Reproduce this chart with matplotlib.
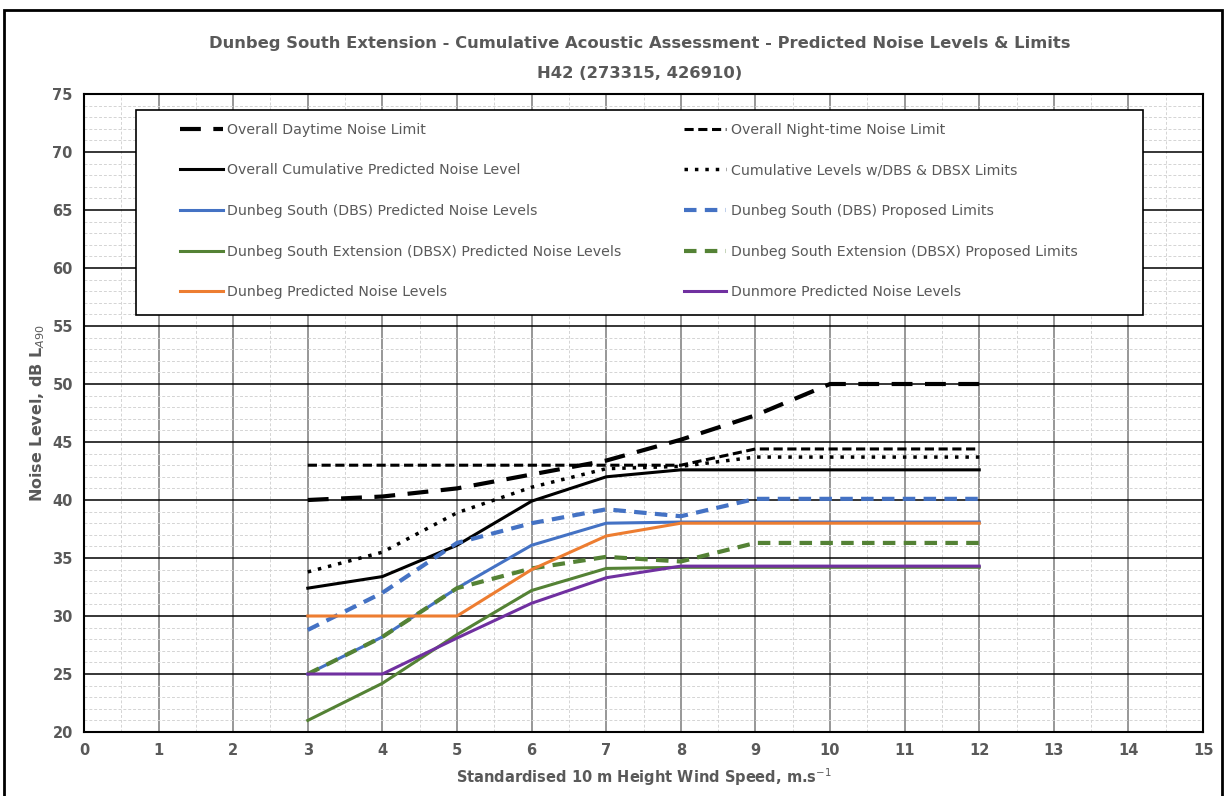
import matplotlib.pyplot as plt
from matplotlib.patches import Rectangle
from matplotlib.ticker import MultipleLocator

# wind speed, m/s
wind = [3, 4, 5, 6, 7, 8, 9, 10, 11, 12]

day_limit = [40.0, 40.3, 41.0, 42.2, 43.4, 45.2, 47.3, 50.0, 50.0, 50.0]
night_limit = [43.0, 43.0, 43.0, 43.0, 43.0, 43.0, 44.4, 44.4, 44.4, 44.4]
cumulative = [32.4, 33.4, 36.1, 39.9, 42.0, 42.6, 42.6, 42.6, 42.6, 42.6]
cumulative_lim = [33.8, 35.5, 38.9, 41.1, 42.7, 42.9, 43.7, 43.7, 43.7, 43.7]
dbs_pred = [25.0, 28.2, 32.4, 36.1, 38.0, 38.1, 38.1, 38.1, 38.1, 38.1]
dbs_lim = [28.8, 32.0, 36.3, 38.0, 39.2, 38.6, 40.1, 40.1, 40.1, 40.1]
dbsx_pred = [21.0, 24.2, 28.4, 32.2, 34.1, 34.2, 34.2, 34.2, 34.2, 34.2]
dbsx_lim = [25.0, 28.2, 32.4, 34.1, 35.1, 34.7, 36.3, 36.3, 36.3, 36.3]
dunbeg = [30.0, 30.0, 30.0, 34.0, 36.9, 38.0, 38.0, 38.0, 38.0, 38.0]
dunmore = [25.0, 25.0, 28.1, 31.1, 33.3, 34.3, 34.3, 34.3, 34.3, 34.3]

BLUE = "#4472C4"
ORANGE = "#ED7D31"
GREEN = "#548235"
PURPLE = "#7030A0"
GREY = "#595959"

fig = plt.figure(figsize=(12.26, 7.96), dpi=100)
ax = fig.add_axes([0.0685, 0.0804, 0.9128, 0.8015])

# outer chart border
fig.patches.append(Rectangle((0.003, -0.01), 0.994, 0.997, transform=fig.transFigure,
                             fill=False, edgecolor="black", linewidth=2))

ax.plot(wind, day_limit, color="black", lw=3, linestyle=(0, (5, 3)), label="Overall Daytime Noise Limit")
ax.plot(wind, night_limit, color="black", lw=2.2, linestyle=(0, (3, 1.5)), label="Overall Night-time Noise Limit")
ax.plot(wind, cumulative, color="black", lw=2.2, label="Overall Cumulative Predicted Noise Level")
ax.plot(wind, cumulative_lim, color="black", lw=2.5, linestyle=(0, (1, 2)),
        label="Cumulative Levels w/DBS & DBSX Limits")
ax.plot(wind, dbs_pred, color=BLUE, lw=2.2, label="Dunbeg South (DBS) Predicted Noise Levels")
ax.plot(wind, dbs_lim, color=BLUE, lw=3, linestyle=(0, (3, 2)), label="Dunbeg South (DBS) Proposed Limits")
ax.plot(wind, dbsx_pred, color=GREEN, lw=2.2, label="Dunbeg South Extension (DBSX) Predicted Noise Levels")
ax.plot(wind, dbsx_lim, color=GREEN, lw=3, linestyle=(0, (3, 2)),
        label="Dunbeg South Extension (DBSX) Proposed Limits")
ax.plot(wind, dunbeg, color=ORANGE, lw=2.2, label="Dunbeg Predicted Noise Levels")
ax.plot(wind, dunmore, color=PURPLE, lw=2.2, label="Dunmore Predicted Noise Levels")

ax.set_xlim(0, 15)
ax.set_ylim(20, 75)
ax.xaxis.set_major_locator(MultipleLocator(1))
ax.xaxis.set_minor_locator(MultipleLocator(0.5))
ax.yaxis.set_major_locator(MultipleLocator(5))
ax.yaxis.set_minor_locator(MultipleLocator(1))
ax.set_axisbelow(True)
ax.grid(which="minor", axis="both", color="#d4d4d4", linestyle=(0, (3, 2)), lw=0.7)
ax.grid(which="major", axis="x", color="#7a7a7a", lw=1.1)
ax.grid(which="major", axis="y", color="black", lw=1.1)
ax.tick_params(which="both", length=0, labelsize=10.5, labelcolor=GREY, pad=8)
for lab in ax.get_xticklabels() + ax.get_yticklabels():
    lab.set_fontweight("bold")
for s in ax.spines.values():
    s.set_color("black")
    s.set_linewidth(1.5)

ax.set_xlabel("Standardised 10 m Height Wind Speed, m.s$^{-1}$", fontsize=10.5, color=GREY,
              fontweight="bold", labelpad=6)
ax.set_ylabel("Noise Level, dB L$_{A90}$", fontsize=11.5, color=GREY, fontweight="bold", labelpad=4)

fig.text(0.522, 0.945, "Dunbeg South Extension - Cumulative Acoustic Assessment - Predicted Noise Levels & Limits",
         ha="center", va="center", fontsize=11.8, color=GREY, fontweight="bold")
fig.text(0.522, 0.908, "H42 (273315, 426910)", ha="center", va="center", fontsize=11.8,
         color=GREY, fontweight="bold")

# legend box drawn by hand, two single-column legends inside it
ax.add_patch(Rectangle((0.0465, 0.654), 0.8995, 0.321, transform=ax.transAxes, facecolor="white",
                       edgecolor="black", lw=1.2, zorder=4))
handles, labels = ax.get_legend_handles_labels()
leg_kw = dict(loc="upper left", frameon=False, fontsize=10.2, labelcolor=GREY, handlelength=3.0,
              handletextpad=0.3, borderpad=0, borderaxespad=0, labelspacing=1.88)
leg1 = ax.legend([handles[i] for i in [0, 2, 4, 6, 8]], [labels[i] for i in [0, 2, 4, 6, 8]],
                 bbox_to_anchor=(0.086, 0.955), **leg_kw)
leg1.set_zorder(5)
ax.add_artist(leg1)
leg2 = ax.legend([handles[i] for i in [1, 3, 5, 7, 9]], [labels[i] for i in [1, 3, 5, 7, 9]],
                 bbox_to_anchor=(0.536, 0.955), **leg_kw)
leg2.set_zorder(5)

fig.savefig("out.png", dpi=100)
